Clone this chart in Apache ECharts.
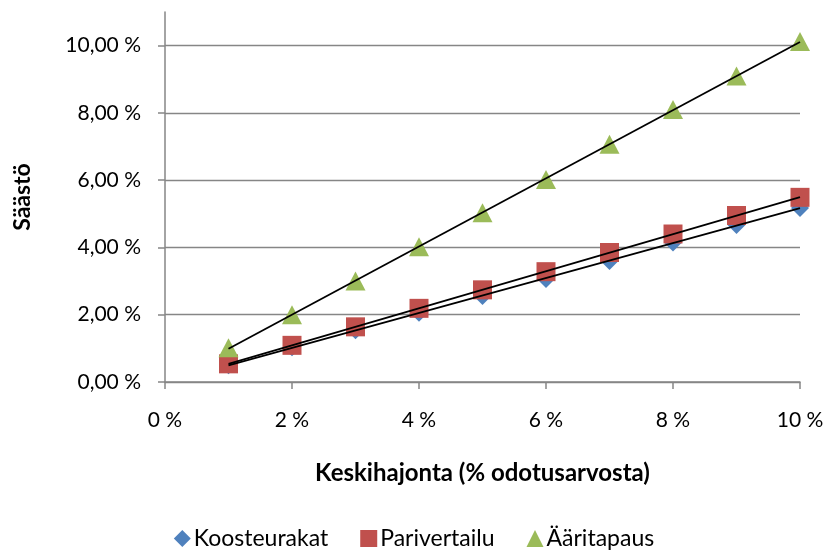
<!DOCTYPE html>
<html>
<head>
<meta charset="utf-8">
<script src="https://cdn.jsdelivr.net/npm/echarts@6/dist/echarts.min.js"></script>
<style>
  html, body { margin: 0; padding: 0; background: #fff; }
  #chart { width: 828px; height: 555px; }
</style>
</head>
<body>
<div id="chart"></div>
<script>
// keskihajonta, % odotusarvosta
var xValues = [1, 2, 3, 4, 5, 6, 7, 8, 9, 10]
// säästö, %
var koosteurakat = [0.50, 1.03, 1.54, 2.06, 2.56, 3.06, 3.60, 4.15, 4.67, 5.17]
var parivertailu = [0.54, 1.09, 1.64, 2.19, 2.74, 3.28, 3.85, 4.40, 4.95, 5.49]
var aaritapaus = [1.02, 2.00, 3.00, 4.02, 5.03, 6.02, 7.07, 8.10, 9.10, 10.12]
var yTicks = [0, 2, 4, 6, 8, 10]

var font = 'Lato'
var axisGray = '#868686'

function pairs(ys) {
  return xValues.map(function (x, i) { return [x, ys[i]] })
}

// linear trendline (least squares), drawn from first to last x
function trend(ys) {
  var n = xValues.length
  var sx = 0, sy = 0, sxx = 0, sxy = 0
  for (var i = 0; i < n; i++) {
    sx += xValues[i]; sy += ys[i]
    sxx += xValues[i] * xValues[i]; sxy += xValues[i] * ys[i]
  }
  var b = (n * sxy - sx * sy) / (n * sxx - sx * sx)
  var a = (sy - b * sx) / n
  var x0 = xValues[0], x1 = xValues[n - 1]
  return [[x0, a + b * x0], [x1, a + b * x1]]
}

function trendSeries(ys) {
  return {
    type: 'line',
    data: trend(ys),
    symbol: 'none',
    silent: true,
    z: 5,
    lineStyle: { color: '#000', width: 1.8 },
    animation: false
  }
}

var chart = echarts.init(document.getElementById('chart'))
chart.setOption({
  animation: false,
  textStyle: { fontFamily: font },
  grid: { left: 165, right: 28, top: 12, bottom: 173 },
  legend: {
    data: ['Koosteurakat', 'Parivertailu', 'Ääritapaus'],
    bottom: 0,
    left: 'center',
    itemWidth: 17,
    itemHeight: 17,
    itemGap: 32,
    textStyle: { fontFamily: font, fontSize: 23, color: '#000', padding: [0, 0, 0, -2] }
  },
  xAxis: {
    type: 'value',
    min: 0,
    max: 10,
    interval: 2,
    name: 'Keskihajonta (% odotusarvosta)',
    nameLocation: 'middle',
    nameGap: 79,
    nameTextStyle: { fontFamily: font, fontSize: 24, fontWeight: 'bold', color: '#000' },
    axisLine: { onZero: false, lineStyle: { color: axisGray, width: 1.5 } },
    axisTick: { show: true, inside: false, length: 7, lineStyle: { color: axisGray, width: 1.5 } },
    axisLabel: {
      margin: 28,
      fontSize: 21,
      color: '#000',
      formatter: function (v) { return v + ' %' }
    },
    splitLine: { show: false }
  },
  yAxis: {
    type: 'value',
    min: 0,
    max: 11,
    interval: 2,
    name: 'Säästö',
    nameLocation: 'middle',
    nameGap: 131,
    nameRotate: 90,
    nameTextStyle: { fontFamily: font, fontSize: 23, fontWeight: 'bold', color: '#000' },
    axisLine: { show: true, lineStyle: { color: axisGray, width: 1.5 } },
    axisTick: { show: true, length: 7, customValues: yTicks, lineStyle: { color: axisGray, width: 1.5 } },
    axisLabel: {
      margin: 24,
      fontSize: 21,
      color: '#000',
      customValues: yTicks,
      formatter: function (v) { return v.toFixed(2).replace('.', ',') + ' %' }
    },
    splitLine: { show: true, lineStyle: { color: axisGray, width: 1.3 } }
  },
  series: [
    {
      name: 'Koosteurakat',
      type: 'scatter',
      data: pairs(koosteurakat),
      symbol: 'diamond',
      symbolSize: 18,
      itemStyle: { color: '#4F81BD', opacity: 1 },
      z: 2
    },
    {
      name: 'Parivertailu',
      type: 'scatter',
      data: pairs(parivertailu),
      symbol: 'rect',
      symbolSize: 19,
      itemStyle: { color: '#C0504D', opacity: 1 },
      z: 3
    },
    {
      name: 'Ääritapaus',
      type: 'scatter',
      data: pairs(aaritapaus),
      symbol: 'triangle',
      symbolSize: [20, 19],
      itemStyle: { color: '#9BBB59', opacity: 1 },
      z: 4
    },
    trendSeries(koosteurakat),
    trendSeries(parivertailu),
    trendSeries(aaritapaus)
  ]
})
</script>
</body>
</html>
